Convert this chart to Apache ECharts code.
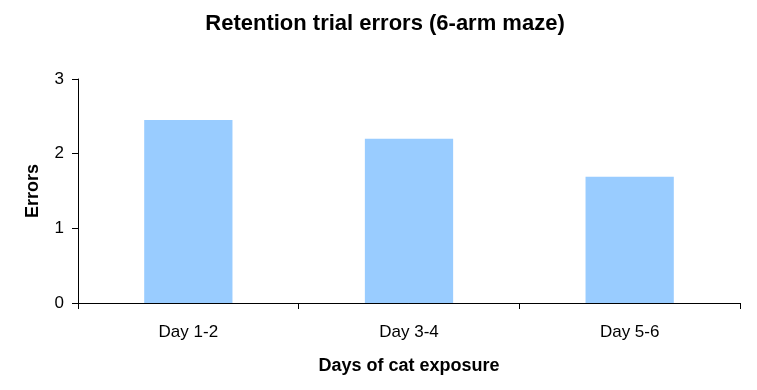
<!DOCTYPE html>
<html><head><meta charset="utf-8">
<script src="https://cdn.jsdelivr.net/npm/echarts@6/dist/echarts.min.js"></script>
<style>html,body{margin:0;padding:0;background:#fff}#c{width:757px;height:390px}</style>
</head><body><div id="c"></div>
<script>
const categories = ['Day 1-2', 'Day 3-4', 'Day 5-6'];
const errors = [2.45, 2.2, 1.69];
const yTicks = [0, 1, 2, 3];

const chart = echarts.init(document.getElementById('c'), null, {renderer: 'canvas'});
const font = '"Liberation Sans", Arial, sans-serif';
chart.setOption({
  animation: false,
  title: {
    text: 'Retention trial errors (6-arm maze)',
    left: 380, top: 8, textAlign: 'center',
    textStyle: {fontFamily: font, fontSize: 22, fontWeight: 'bold', color: '#000'}
  },
  grid: {left: 78, right: 17, top: 79, bottom: 87, containLabel: false},
  xAxis: {
    type: 'category', data: categories,
    name: 'Days of cat exposure', nameLocation: 'middle', nameGap: 54,
    nameTextStyle: {fontFamily: font, fontSize: 18, fontWeight: 'bold', color: '#000'},
    axisLine: {lineStyle: {color: '#000', width: 1}},
    axisTick: {show: true, alignWithLabel: false, length: 6, lineStyle: {color: '#000'}},
    axisLabel: {fontFamily: font, fontSize: 17, color: '#000', margin: 21}
  },
  yAxis: {
    type: 'value', min: yTicks[0], max: yTicks[yTicks.length - 1], interval: 1,
    name: 'Errors', nameLocation: 'middle', nameGap: 36, nameRotate: 90,
    nameTextStyle: {fontFamily: font, fontSize: 18, fontWeight: 'bold', color: '#000'},
    axisLine: {show: true, lineStyle: {color: '#000', width: 1}},
    axisTick: {show: true, length: 6, lineStyle: {color: '#000'}},
    axisLabel: {fontFamily: font, fontSize: 17, color: '#000', margin: 14},
    splitLine: {show: false}
  },
  series: [{
    type: 'bar', data: errors, barWidth: '40%',
    itemStyle: {color: '#99CCFF'}
  }]
});
</script></body></html>
